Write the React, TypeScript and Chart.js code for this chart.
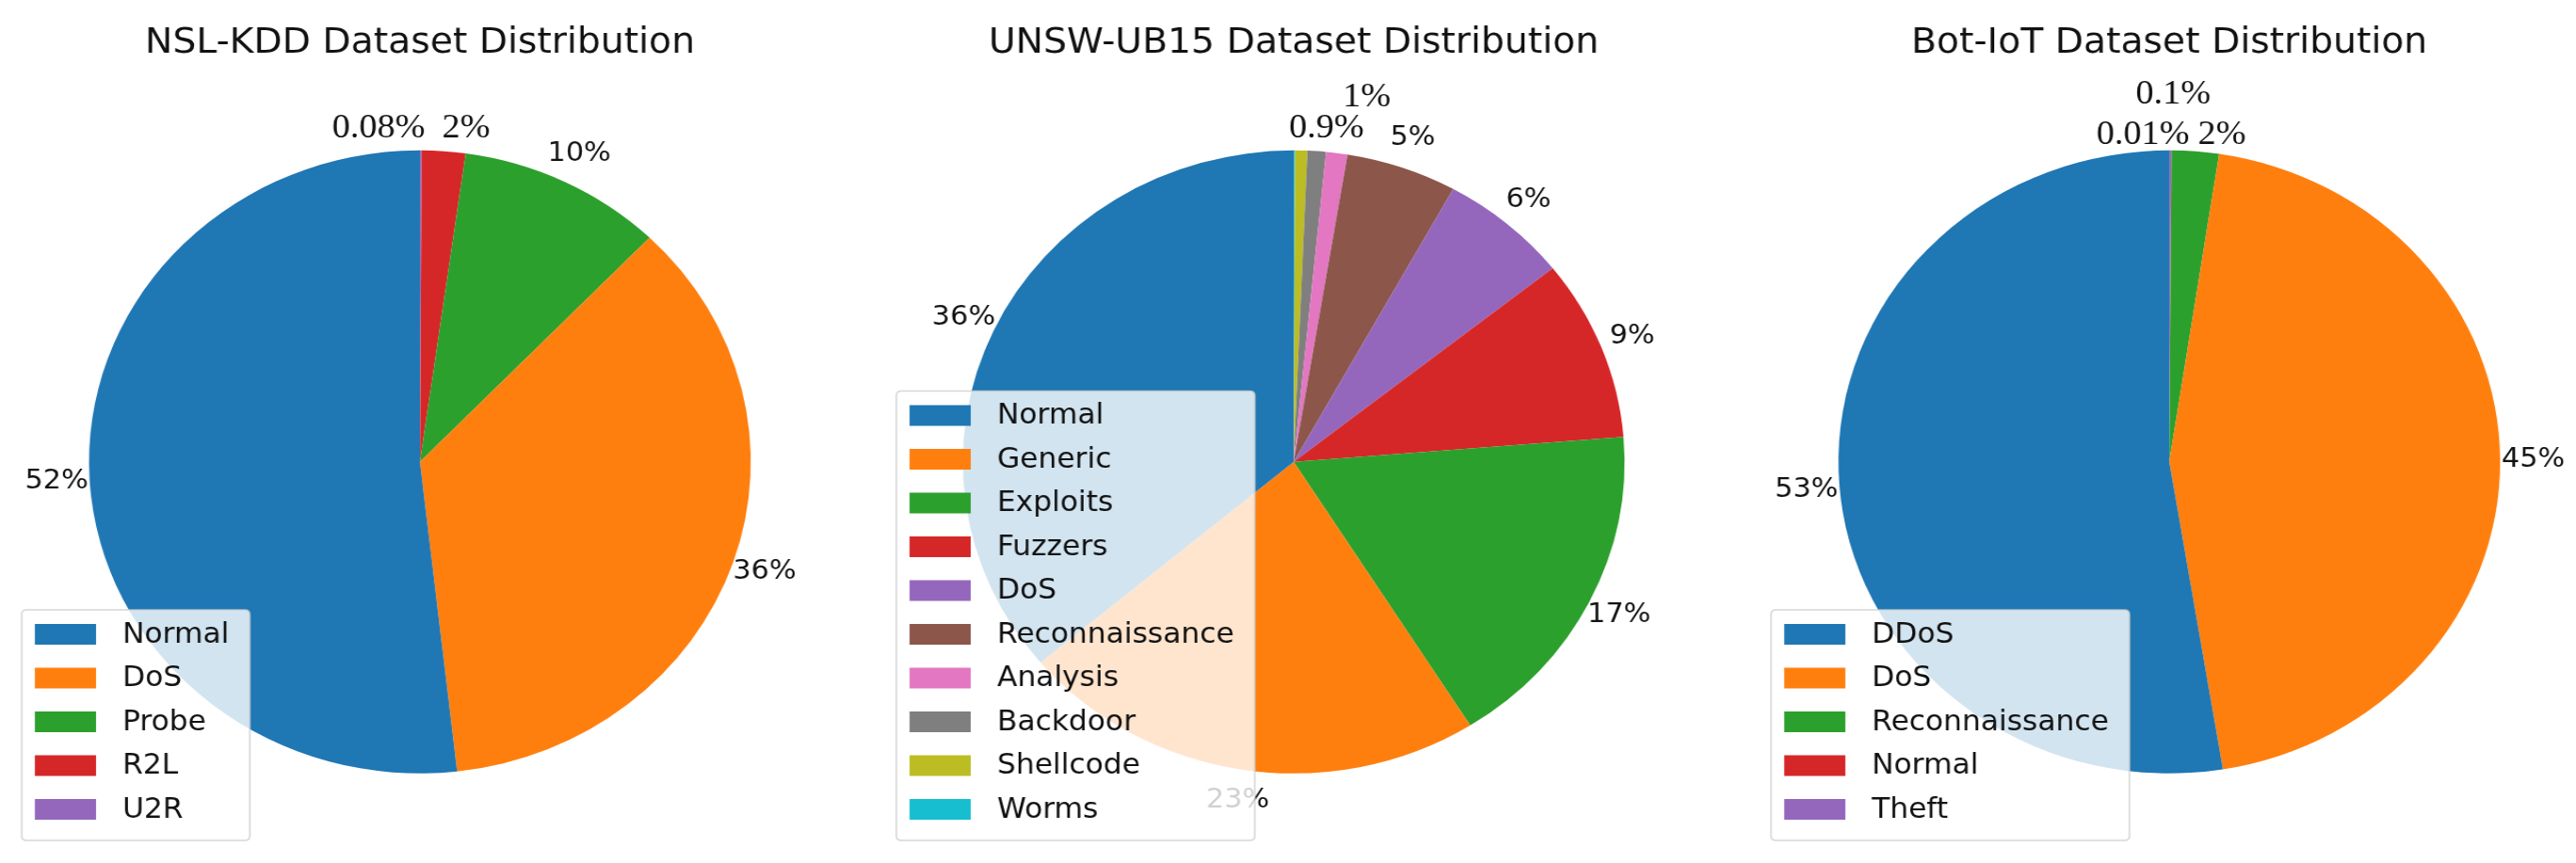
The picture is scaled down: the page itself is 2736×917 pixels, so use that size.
import React, { useEffect, useRef } from 'react';
import { Chart, registerables } from 'chart.js';

Chart.register(...registerables);

// ---------- data ----------
const tabColors = ['#1f77b4', '#ff7f0e', '#2ca02c', '#d62728', '#9467bd', '#8c564b', '#e377c2', '#7f7f7f', '#bcbd22', '#17becf'];

const nslTitle = 'NSL-KDD Dataset Distribution';
const nslCategories = ['Normal', 'DoS', 'Probe', 'R2L', 'U2R'];
const nslValues = [51.8, 36.0, 10.0, 2.13, 0.08];
const nslPctLabels = ['52%', '36%', '10%', '', ''];
const nslExtraLabels = ['0.08%', '2%'];

const unswTitle = 'UNSW-UB15 Dataset Distribution';
const unswCategories = ['Normal', 'Generic', 'Exploits', 'Fuzzers', 'DoS', 'Reconnaissance', 'Analysis', 'Backdoor', 'Shellcode', 'Worms'];
const unswValues = [36.1, 22.8, 17.3, 9.4, 6.3, 5.4, 1.04, 0.9, 0.59, 0.07];
const unswPctLabels = ['36%', '23%', '17%', '9%', '6%', '5%', '', '', '', ''];
const unswExtraLabels = ['1%', '0.9%'];

const botTitle = 'Bot-IoT Dataset Distribution';
const botCategories = ['DDoS', 'DoS', 'Reconnaissance', 'Normal', 'Theft'];
const botValues = [52.6, 45.0, 2.3, 0.01, 0.1];
const botPctLabels = ['53%', '45%', '', '', ''];
const botExtraLabels = ['0.1%', '0.01%', '2%'];

// ---------- layout / style ----------
const CSS_W = 912;
const CSS_H = 917;
const INT_W = 859;
const SX = CSS_W / INT_W; // horizontal stretch of the original figure
const RADIUS = 331;
const CENTER_Y = 490.8;
const TITLE_FONT = 37;
const PCT_FONT = 28.5;
const SERIF_FONT = 36;
const LEGEND_FONT = 29.5;
const SANS = '"DejaVu Sans", sans-serif';
const SERIF = '"Liberation Serif", "DejaVu Serif", serif';

type Extra = { dx: number; dy: number };

type PieSpec = {
  title: string;
  categories: string[];
  values: number[];
  pct: string[];
  extras: string[];
  extraPos: Extra[];
  left: number; // css left of canvas
  centerX: number; // css center relative to canvas
  legendLeft: number; // css relative to canvas
};

const specs: PieSpec[] = [
  {
    title: nslTitle, categories: nslCategories, values: nslValues, pct: nslPctLabels,
    extras: nslExtraLabels, extraPos: [{ dx: -44, dy: -354 }, { dx: 49, dy: -354 }],
    left: 0, centerX: 446, legendLeft: 23,
  },
  {
    title: unswTitle, categories: unswCategories, values: unswValues, pct: unswPctLabels,
    extras: unswExtraLabels, extraPos: [{ dx: 77.7, dy: -387 }, { dx: 35, dy: -354 }],
    left: 912, centerX: 462, legendLeft: 40,
  },
  {
    title: botTitle, categories: botCategories, values: botValues, pct: botPctLabels,
    extras: botExtraLabels, extraPos: [{ dx: 4, dy: -390 }, { dx: -28, dy: -347 }, { dx: 56, dy: -347 }],
    left: 1824, centerX: 480, legendLeft: 57,
  },
];

function roundRect(ctx: CanvasRenderingContext2D, x: number, y: number, w: number, h: number, r: number) {
  ctx.beginPath();
  ctx.moveTo(x + r, y);
  ctx.lineTo(x + w - r, y);
  ctx.quadraticCurveTo(x + w, y, x + w, y + r);
  ctx.lineTo(x + w, y + h - r);
  ctx.quadraticCurveTo(x + w, y + h, x + w - r, y + h);
  ctx.lineTo(x + r, y + h);
  ctx.quadraticCurveTo(x, y + h, x, y + h - r);
  ctx.lineTo(x, y + r);
  ctx.quadraticCurveTo(x, y, x + r, y);
  ctx.closePath();
}

function PieChart({ spec }: { spec: PieSpec }) {
  const ref = useRef<HTMLCanvasElement | null>(null);
  useEffect(() => {
    const canvas = ref.current;
    if (!canvas) return;
    const n = spec.categories.length;
    const colors = tabColors.slice(0, n);
    // matplotlib draws counter-clockwise from the top; Chart.js draws clockwise,
    // so the series are fed in reverse order.
    const rev = <T,>(a: T[]) => a.slice().reverse();

    const cxi = spec.centerX / SX;
    let padL = 0;
    let padR = 0;
    if (cxi < INT_W / 2) padR = INT_W - 2 * cxi; else padL = 2 * cxi - INT_W;
    const titlePadTop = 24;
    const titlePadBottom = 10;
    const chartTop = titlePadTop + TITLE_FONT * 1.2 + titlePadBottom;
    const padBottom = CSS_H - (2 * CENTER_Y - chartTop);

    const labelPlugin = {
      id: 'pctLabels',
      afterDatasetsDraw(chart: any) {
        const ctx: CanvasRenderingContext2D = chart.ctx;
        const meta = chart.getDatasetMeta(0);
        ctx.save();
        ctx.fillStyle = '#111';
        ctx.textAlign = 'center';
        ctx.textBaseline = 'middle';
        ctx.font = `${PCT_FONT}px ${SANS}`;
        let cx = 0;
        let cy = 0;
        let r = 0;
        meta.data.forEach((arc: any, j: number) => {
          const p = arc.getProps(['x', 'y', 'startAngle', 'endAngle', 'outerRadius'], true);
          cx = p.x; cy = p.y; r = p.outerRadius;
          const orig = n - 1 - j;
          const txt = spec.pct[orig];
          if (!txt) return;
          const mid = (p.startAngle + p.endAngle) / 2;
          ctx.fillText(txt, p.x + Math.cos(mid) * r * 1.1, p.y + Math.sin(mid) * r * 1.1);
        });
        ctx.font = `${SERIF_FONT}px ${SERIF}`;
        spec.extras.forEach((t, k) => {
          const pos = spec.extraPos[k];
          ctx.fillText(t, cx + pos.dx / SX, cy + pos.dy);
        });
        ctx.restore();
      },
    };

    const legendPlugin = {
      id: 'boxLegend',
      afterDraw(chart: any) {
        const ctx: CanvasRenderingContext2D = chart.ctx;
        const rowGap = 46.5;
        const topGap = 26;
        const botGap = 33;
        const boxH = topGap + (n - 1) * rowGap + botGap;
        const bottom = 893;
        const top = bottom - boxH;
        ctx.save();
        ctx.font = `${LEGEND_FONT}px ${SANS}`;
        const maxTw = Math.max(...spec.categories.map((c) => ctx.measureText(c).width));
        const left = spec.legendLeft / SX;
        const boxW = maxTw + (107 + 22) / SX;
        roundRect(ctx, left, top, boxW, boxH, 5);
        ctx.fillStyle = 'rgba(255,255,255,0.8)';
        ctx.fill();
        ctx.strokeStyle = 'rgba(204,204,204,0.8)';
        ctx.lineWidth = 1.6;
        ctx.stroke();
        ctx.textAlign = 'left';
        ctx.textBaseline = 'middle';
        spec.categories.forEach((c, i) => {
          const cy = top + topGap + i * rowGap;
          ctx.fillStyle = colors[i];
          ctx.fillRect(left + 14 / SX, cy - 11, 65 / SX, 22);
          ctx.fillStyle = '#111';
          ctx.fillText(c, left + 107 / SX, cy + 1);
        });
        ctx.restore();
      },
    };

    const chart = new Chart(canvas, {
      type: 'pie',
      data: {
        labels: rev(spec.categories),
        datasets: [
          {
            data: rev(spec.values),
            backgroundColor: rev(colors),
            borderWidth: 0,
            radius: RADIUS,
          } as any,
        ],
      },
      options: {
        responsive: false,
        animation: false,
        devicePixelRatio: 1,
        rotation: 0,
        layout: { padding: { left: padL, right: padR, top: 0, bottom: padBottom } },
        plugins: {
          legend: { display: false },
          tooltip: { enabled: false },
          title: {
            display: true,
            text: spec.title,
            color: '#111',
            font: { family: SANS, size: TITLE_FONT, weight: 'normal', lineHeight: 1.2 },
            padding: { top: titlePadTop, bottom: titlePadBottom },
          },
        },
      } as any,
      plugins: [labelPlugin, legendPlugin],
    });
    return () => chart.destroy();
  }, [spec]);

  return (
    <canvas
      ref={ref}
      width={INT_W}
      height={CSS_H}
      style={{ position: 'absolute', left: spec.left, top: 0, width: CSS_W + 'px', height: CSS_H + 'px' }}
    />
  );
}

export default function App() {
  return (
    <div style={{ position: 'fixed', left: 0, top: 0, width: 2736, height: 917, background: '#fff', overflow: 'hidden' }}>
      {specs.map((s, i) => (
        <PieChart key={i} spec={s} />
      ))}
    </div>
  );
}
